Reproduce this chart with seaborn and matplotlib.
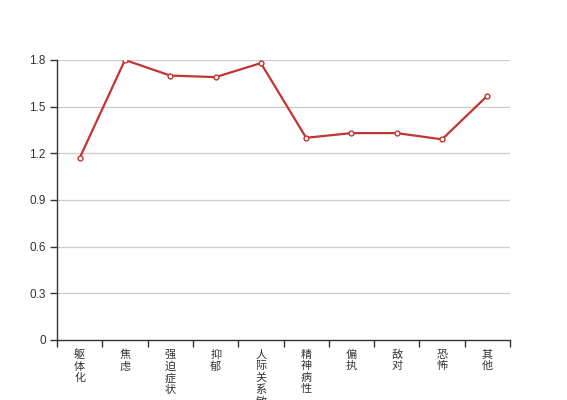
import numpy as np
import matplotlib
matplotlib.use("Agg")
import matplotlib.pyplot as plt
import seaborn as sns

categories = ["躯体化", "焦虑", "强迫症状", "抑郁", "人际关系敏感",
              "精神病性", "偏执", "敌对", "恐怖", "其他"]
values = [1.17, 1.80, 1.70, 1.69, 1.78, 1.30, 1.33, 1.33, 1.29, 1.57]
y_ticks = [0, 0.3, 0.6, 0.9, 1.2, 1.5, 1.8]

sns.set_style("white")
plt.rcParams['font.family'] = ['Noto Sans CJK SC', 'DejaVu Sans']

fig = plt.figure(figsize=(5.67, 4), dpi=100)
ax = fig.add_axes([57 / 567, 60 / 400, 453 / 567, 280 / 400])

pos = np.arange(len(categories))
sns.lineplot(x=pos, y=values, ax=ax, color="#c23531", linewidth=1.6,
             marker="o", markersize=3.5, markerfacecolor="white",
             markeredgecolor="#c23531", markeredgewidth=1, zorder=3)

ax.set_xlim(-0.5, len(categories) - 0.5)
ax.set_ylim(0, 1.8)
ax.set_yticks(y_ticks)
ax.set_yticklabels([f"{t:g}" if t == 0 else f"{t:.1f}" for t in y_ticks],
                   family="Liberation Sans")

# category boundary ticks, labels at centres
ax.set_xticks(np.arange(-0.5, len(categories)), labels=[])
ax.set_xticks(pos, labels=["\n".join(c) for c in categories], minor=True)
ax.tick_params(axis="x", which="major", bottom=True, length=5, width=1,
               color="#333333", direction="out")
ax.tick_params(axis="x", which="minor", bottom=True, length=0, pad=7,
               labelsize=8, labelcolor="#333333")
for lab in ax.get_xticklabels(minor=True):
    lab.set_linespacing(1.17)
    lab.set_verticalalignment("top")
ax.tick_params(axis="y", left=True, length=5, width=1, color="#333333",
               labelsize=8.5, labelcolor="#333333", direction="out", pad=3)

for t in y_ticks[1:]:
    ax.axhline(t, color="#cccccc", linewidth=0.9, zorder=0)

for s in ["top", "right"]:
    ax.spines[s].set_visible(False)
for s in ["left", "bottom"]:
    ax.spines[s].set_color("#333333")
    ax.spines[s].set_linewidth(1)

fig.savefig("out.png", dpi=100)
